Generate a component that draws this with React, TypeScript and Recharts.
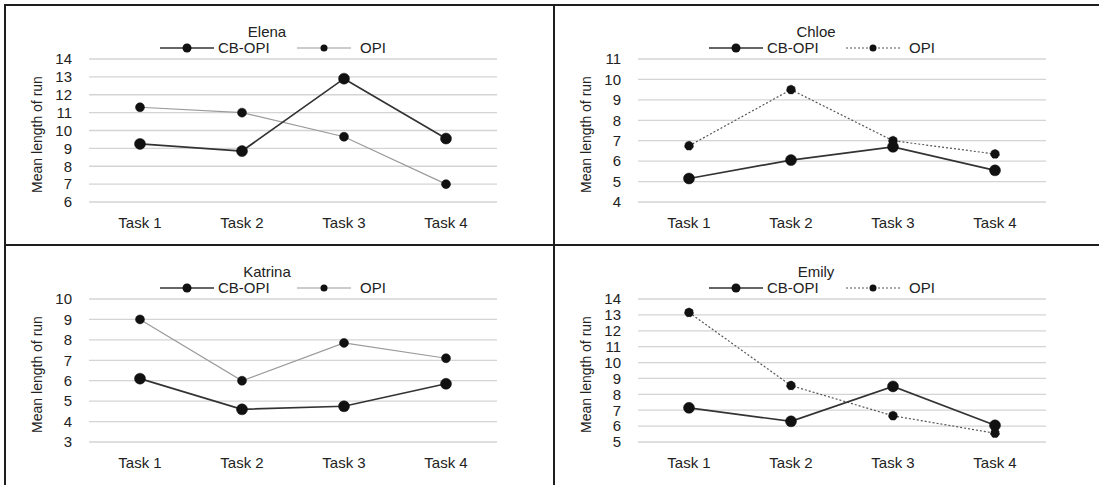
import React from 'react';
import { LineChart, Line, XAxis, YAxis, CartesianGrid } from 'recharts';

const tasks = ['Task 1', 'Task 2', 'Task 3', 'Task 4'];

const elenaCb = [9.25, 8.85, 12.9, 9.55];
const elenaOpi = [11.3, 11.0, 9.65, 7.0];
const elenaTicks = [6, 7, 8, 9, 10, 11, 12, 13, 14];

const chloeCb = [5.15, 6.05, 6.7, 5.55];
const chloeOpi = [6.75, 9.5, 7.0, 6.35];
const chloeTicks = [4, 5, 6, 7, 8, 9, 10, 11];

const katrinaCb = [6.1, 4.6, 4.75, 5.85];
const katrinaOpi = [9.0, 6.0, 7.85, 7.1];
const katrinaTicks = [3, 4, 5, 6, 7, 8, 9, 10];

const emilyCb = [7.15, 6.3, 8.5, 6.05];
const emilyOpi = [13.15, 8.55, 6.65, 5.55];
const emilyTicks = [5, 6, 7, 8, 9, 10, 11, 12, 13, 14];

const FONT = '"Liberation Sans", Arial, sans-serif';
const TEXT = '#222';
const PW = 549;
const PH = 240;

type PanelProps = {
  name: string;
  left: number;
  top: number;
  cb: number[];
  opi: number[];
  ticks: number[];
  dotted: boolean;
};

const YLabel = (props: any) => {
  const cx = 32;
  const cy = 54 + 143 / 2 + 4;
  return (
    <text
      x={cx}
      y={cy}
      transform={`rotate(-90 ${cx} ${cy})`}
      textAnchor="middle"
      dominantBaseline="central"
      fill={TEXT}
      fontSize={14}
      fontFamily={FONT}
    >
      Mean length of run
    </text>
  );
};

const LegendSwatch = ({ dotted, big, gray }: { dotted: boolean; big: boolean; gray: boolean }) => (
  <svg width={54} height={12} style={{ display: 'block' }}>
    <line
      x1={0}
      y1={6}
      x2={54}
      y2={6}
      stroke={gray ? (dotted ? '#555' : '#999') : '#333'}
      strokeWidth={gray ? 1.2 : 1.6}
      strokeDasharray={dotted ? '2 2' : undefined}
    />
    <circle cx={27} cy={6} r={big ? 4.5 : 3.5} fill="#111" />
  </svg>
);

const Panel = ({ name, left, top, cb, opi, ticks, dotted }: PanelProps) => {
  const data = tasks.map((t, i) => ({ task: t, cb: cb[i], opi: opi[i] }));
  const min = ticks[0];
  const max = ticks[ticks.length - 1];
  return (
    <div style={{ position: 'absolute', left, top, width: PW, height: PH }}>
      <LineChart width={PW} height={PH} data={data} margin={{ top: 54, right: 57, bottom: 13, left: 0 }}>
        <CartesianGrid vertical={false} stroke="#d4d4d4" strokeWidth={1.3} />
        <XAxis
          dataKey="task"
          height={30}
          axisLine={false}
          tickLine={false}
          tickMargin={9}
          padding={{ left: 51, right: 51 }}
          tick={{ fill: TEXT, fontSize: 15, fontFamily: FONT }}
          interval={0}
        />
        <YAxis
          width={84}
          domain={[min, max]}
          ticks={ticks}
          interval={0}
          axisLine={false}
          tickLine={false}
          tickMargin={11}
          tick={{ fill: TEXT, fontSize: 15, fontFamily: FONT }}
          label={<YLabel />}
        />
        <Line
          dataKey="opi"
          stroke={dotted ? '#555' : '#9a9a9a'}
          strokeWidth={1.2}
          strokeDasharray={dotted ? '2 2' : undefined}
          dot={{ r: 4.5, fill: '#111', stroke: '#111', strokeWidth: 0.5 }}
          isAnimationActive={false}
        />
        <Line
          dataKey="cb"
          stroke="#333"
          strokeWidth={1.7}
          dot={{ r: 5.5, fill: '#111', stroke: '#111', strokeWidth: 0.5 }}
          isAnimationActive={false}
        />
      </LineChart>
      <div
        style={{
          position: 'absolute',
          left: 212,
          width: 100,
          top: 20,
          textAlign: 'center',
          fontFamily: FONT,
          fontSize: 15,
          color: TEXT,
          lineHeight: '14px',
        }}
      >
        {name}
      </div>
      <div style={{ position: 'absolute', left: 155, top: 37 }}>
        <LegendSwatch dotted={false} big={true} gray={false} />
      </div>
      <div
        style={{ position: 'absolute', left: 213, top: 36, fontFamily: FONT, fontSize: 15, color: TEXT, lineHeight: '14px' }}
      >
        CB-OPI
      </div>
      <div style={{ position: 'absolute', left: 292, top: 37 }}>
        <LegendSwatch dotted={dotted} big={false} gray={true} />
      </div>
      <div
        style={{ position: 'absolute', left: 355, top: 36, fontFamily: FONT, fontSize: 15, color: TEXT, lineHeight: '14px' }}
      >
        OPI
      </div>
    </div>
  );
};

export default function App() {
  const line = '#1e1e1e';
  return (
    <div style={{ position: 'absolute', left: 0, top: 0, width: 1099, height: 485, background: '#fff', overflow: 'hidden' }}>
      <Panel name="Elena" left={5} top={5} cb={elenaCb} opi={elenaOpi} ticks={elenaTicks} dotted={false} />
      <Panel name="Chloe" left={554} top={5} cb={chloeCb} opi={chloeOpi} ticks={chloeTicks} dotted={true} />
      <Panel name="Katrina" left={5} top={245} cb={katrinaCb} opi={katrinaOpi} ticks={katrinaTicks} dotted={false} />
      <Panel name="Emily" left={554} top={245} cb={emilyCb} opi={emilyOpi} ticks={emilyTicks} dotted={true} />
      <div style={{ position: 'absolute', left: 4, top: 4, width: 1095, height: 2, background: line }} />
      <div style={{ position: 'absolute', left: 4, top: 4, width: 2, height: 481, background: line }} />
      <div style={{ position: 'absolute', left: 553, top: 4, width: 2, height: 481, background: line }} />
      <div style={{ position: 'absolute', left: 4, top: 244, width: 1095, height: 2, background: line }} />
    </div>
  );
}
